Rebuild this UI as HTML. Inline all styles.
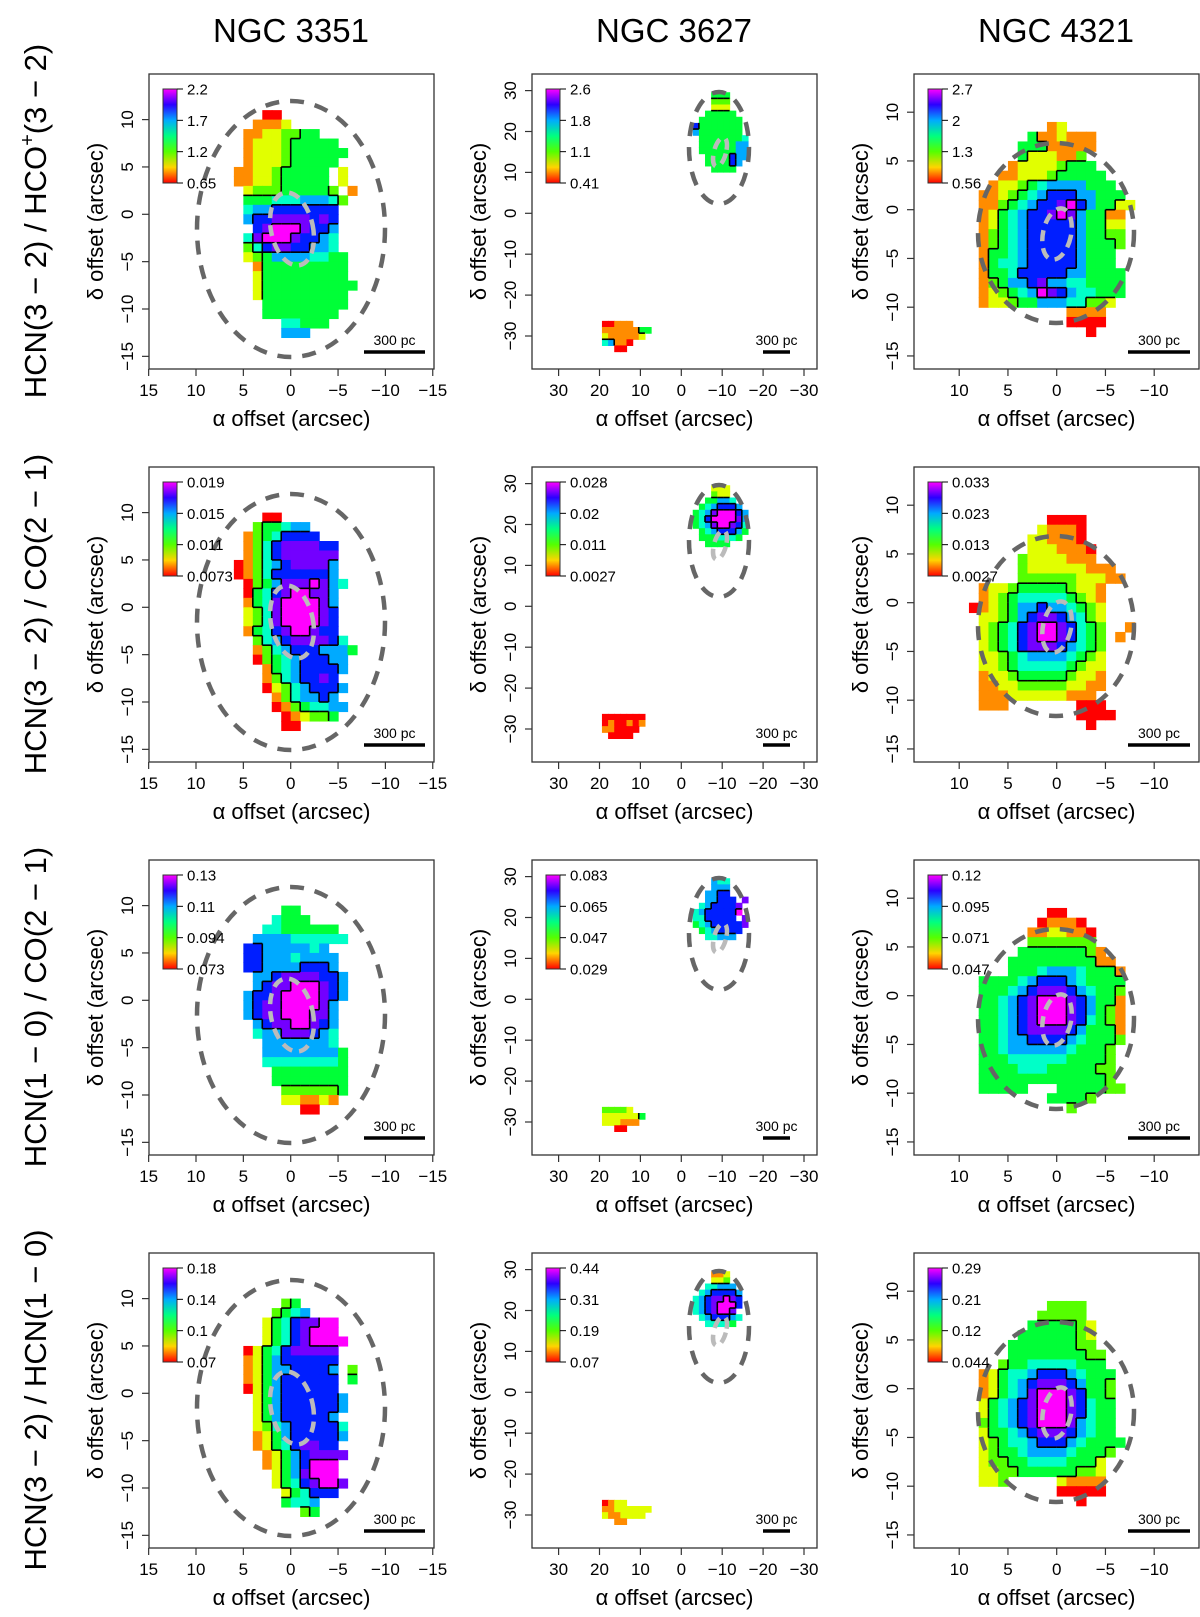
<!DOCTYPE html>
<html><head><meta charset="utf-8"><title>HCN ratio maps</title>
<style>
html,body{margin:0;padding:0;background:#fff;}
svg{display:block;font-family:"Liberation Sans",Arial,sans-serif;}
</style></head>
<body>
<svg id="fig" width="1200" height="1617" viewBox="0 0 1200 1617" xmlns="http://www.w3.org/2000/svg">
<defs>
<linearGradient id="cbgrad" x1="0" y1="1" x2="0" y2="0">
<stop offset="0" stop-color="hsl(0,100%,50%)"/><stop offset="0.167" stop-color="hsl(50,100%,50%)"/>
<stop offset="0.333" stop-color="hsl(100,100%,50%)"/><stop offset="0.5" stop-color="hsl(150,100%,50%)"/>
<stop offset="0.667" stop-color="hsl(200,100%,50%)"/><stop offset="0.833" stop-color="hsl(250,100%,50%)"/>
<stop offset="1" stop-color="hsl(300,100%,50%)"/>
</linearGradient>
</defs>
<text x="291" y="42" font-size="33" text-anchor="middle">NGC 3351</text>
<text x="674" y="42" font-size="33" text-anchor="middle">NGC 3627</text>
<text x="1056" y="42" font-size="33" text-anchor="middle">NGC 4321</text>
<text transform="translate(46,221) rotate(-90)" font-size="31" text-anchor="middle">HCN(3 − 2) / HCO<tspan font-size="20" dy="-12">+</tspan><tspan dy="12">(3 − 2)</tspan></text>
<text transform="translate(46,614) rotate(-90)" font-size="31" text-anchor="middle">HCN(3 − 2) / CO(2 − 1)</text>
<text transform="translate(46,1007) rotate(-90)" font-size="31" text-anchor="middle">HCN(1 − 0) / CO(2 − 1)</text>
<text transform="translate(46,1400) rotate(-90)" font-size="31" text-anchor="middle">HCN(3 − 2) / HCN(1 − 0)</text>
</svg>
<script>
// ---- data: level grids (0=red .. 9=magenta, '.'=no data) ----
const map_r1c1 = ["....00........","...1112.......","..11223344....","..1222344444..","..12223444444.","..1222344444..",".1122344444.2.",".1122344444.2.","..2333444443.1","..44455566653.","..5667777777..","..6778888787..","...789998776..","..5899987765..","..3578877665..","..23466665544.","...1444444444.","...2444444444.","...24444444444","...2444444444.","....444444444.","....44444444..","......55444...","......666....."];
const map_r2c1 = ["..............","....00........","...344566.....","..13457777....","..1357888877..","..1357888888..",".01356788886..",".01357777776..","..03468889865.","..0457899886..","..1458999986..","..2358999987..","..2358999987..","..1457899877..","...3567888875.","...13567776664","...0345677766.","....145677776.","....13567787..","....023567776.",".....1356676..",".....01345566.","......012334..","......00......"];
const map_r3c1 = ["..............","......44......",".....5444.....","....55444444..","...6666555555.","..776666656...","..7766656666..","..7766667776..","...6678888776.","...6788999876.","..67789999876.","..6788999986..","..6788999886..","...678899876..","...566888765..","....66666665..","....666666664.","....555555554.",".....44444444.",".....44444444.","......3333334.","......221121..","........00...."];
const map_r4c1 = ["..............","......34......",".....3456.....","....24578899..","....24578999..","....245789999.","..0245788888..","..1246777777..","..1246677776.3","..1246777777.4","..0246777777..","...2467777776.","...2467777776.","...246777776..","...2356777775.","...1246777776.","...124578877..","....124678888.","....12467999..",".....2468999..",".....24578998.","......245777..","......4556....","........34...."];
const map_r1c3 = ["..................","........12........","......4112111.....",".....44411111.....",".....4222113......","....122223444.....","...11222344444....","..1223456666444...",".112345677766444..",".1134567789764422.",".124567789864411..",".124567777764422..",".134567777764433..",".134567777764443..",".14456777776444...",".14556777776444...",".144577777664444..",".134667866554444..",".123456987655444..",".12234466655332...","..........1111....","..........0000....","............0....."];
const map_r2c3 = ["..................","........0000......",".......21110......","......221110......","......2221110.....",".....32222111.....",".....3222222111...",".....33333322211..",".1223444443221....",".1234555554321....","01234667665432....",".2234678876532....",".2345789987543..1.",".2345789987543.1..",".2345788876543....",".2234566665432....",".2234555554322....",".1223444443221....",".1122333332211....",".111222222111.....",".111.......000....","...........0000...","............0....."];
const map_r3c3 = ["..................","........00........",".......01110......","......1122110.....","......3333333.....",".....444444431....","....44444444411...","....444566654441..",".444456777654444..",".444567888765443..",".445678999876441..",".445678999876431..",".445678999875431..",".445678888764441..",".445667777654443..",".44566666654443...",".44455555544443...",".44445554444433...",".44444444444443...",".44444...4444433..","........44443.....","..........3.......","..................."];
const map_r4c3 = ["..................","........3333......",".......33333......","......4444432.....",".....44444432.....","....444444433.....","....4444444433....","...34455555444....",".12455677765444...",".12456788876443...",".12456899987443...",".24567899987544...",".24567899987544...",".34567899986544...",".24456788876544...",".234556777654444..",".23445666654443...",".2334455554442....",".2233444444332....",".223.....21111....",".........00000....","...........0......","..................."];
const up_r1c2 = ["...444...","...333...","...222...","..44444..",".4444444.","74444444.","64444444.",".44444445",".44444466",".44444466","..4444766","..444476.","...4444.."];
const lo_r1c2 = ["00111....","11111144.","2111112..","56110....","..00....."];
const up_r2c2 = ["...222...","...322...","..44665..",".4567776.","456899976","457999986","456899875",".45677764",".4445554.","..4444..."];
const lo_r2c2 = ["0000000..","0100101..","110000...",".0000...."];
const up_r3c2 = ["...655...","...666...","..6677...","..66777.8",".5677778.","56777779.","5577777.8","456777778",".4567777.","..55666.."];
const lo_r3c2 = ["33332....","2222224..","222111...","..00....."];
const up_r4c2 = ["...112...","...223...","..55666..",".5677776.","56788987.","56789997.","5678998..",".5677765.","..55554.."];
const lo_r4c2 = ["0122.....","11222222.","2112222..","..11....."];
// colour-bar tick labels (top to bottom)
const cb_r1 = ["2.2","1.7","1.2","0.65"], cb_r1c2 = ["2.6","1.8","1.1","0.41"], cb_r1c3 = ["2.7","2","1.3","0.56"];
const cb_r2 = ["0.019","0.015","0.011","0.0073"], cb_r2c2 = ["0.028","0.02","0.011","0.0027"], cb_r2c3 = ["0.033","0.023","0.013","0.0027"];
const cb_r3 = ["0.13","0.11","0.094","0.073"], cb_r3c2 = ["0.083","0.065","0.047","0.029"], cb_r3c3 = ["0.12","0.095","0.071","0.047"];
const cb_r4 = ["0.18","0.14","0.1","0.07"], cb_r4c2 = ["0.44","0.31","0.19","0.07"], cb_r4c3 = ["0.29","0.21","0.12","0.044"];
// contour thresholds (levels)
const contourLevels = [3.5, 6.5, 8.5];
// axis ticks
const ticksX_c1 = [15,10,5,0,-5,-10,-15], ticksY_c1 = [10,5,0,-5,-10,-15];
const ticksX_c2 = [30,20,10,0,-10,-20,-30], ticksY_c2 = [30,20,10,0,-10,-20,-30];
const ticksX_c3 = [10,5,0,-5,-10], ticksY_c3 = [10,5,0,-5,-10,-15];

const NS = "http://www.w3.org/2000/svg";
const svg = document.getElementById('fig');
const rowTop = [74, 467, 860, 1253];
const colLeft = [149, 532, 914];
const W = 285, H = 295;
const cols = [
 {s:9.47, X0:141.7, Y0:140.3, tx:ticksX_c1, ty:ticksY_c1, ell:[142,155,94,128], inn:[143,155,21,37,-12], bar:[215,276]},
 {s:4.09, X0:149.3, Y0:139.3, tx:ticksX_c2, ty:ticksY_c2, ell:[187,74,30,56], inn:[188,78,6,15,15], bar:[231,258]},
 {s:9.75, X0:142.7, Y0:135.7, tx:ticksX_c3, ty:ticksY_c3, ell:[142,159,78,90], inn:[143,160,14,26,12], bar:[214,276]}
];
const panels = [
 [[{g:map_r1c1,x0:7,y0:11,c:1}],[{g:up_r1c2,x0:-2.8,y0:29.6,c:1.5},{g:lo_r1c2,x0:19.4,y0:-26.3,c:1.5}],[{g:map_r1c3,x0:9,y0:10,c:1}]],
 [[{g:map_r2c1,x0:7,y0:11,c:1}],[{g:up_r2c2,x0:-2.8,y0:29.6,c:1.5},{g:lo_r2c2,x0:19.4,y0:-26.3,c:1.5}],[{g:map_r2c3,x0:9,y0:10,c:1}]],
 [[{g:map_r3c1,x0:7,y0:11,c:1}],[{g:up_r3c2,x0:-2.8,y0:29.6,c:1.5},{g:lo_r3c2,x0:19.4,y0:-26.3,c:1.5}],[{g:map_r3c3,x0:9,y0:10,c:1}]],
 [[{g:map_r4c1,x0:7,y0:11,c:1}],[{g:up_r4c2,x0:-2.8,y0:29.6,c:1.5},{g:lo_r4c2,x0:19.4,y0:-26.3,c:1.5}],[{g:map_r4c3,x0:9,y0:10,c:1}]]
];
const cbs = [[cb_r1,cb_r1c2,cb_r1c3],[cb_r2,cb_r2c2,cb_r2c3],[cb_r3,cb_r3c2,cb_r3c3],[cb_r4,cb_r4c2,cb_r4c3]];

function mk(tag, attrs, parent){
  const e = document.createElementNS(NS, tag);
  for (const k in attrs) e.setAttribute(k, attrs[k]);
  parent.appendChild(e); return e;
}
function colour(l){ return 'hsl(' + Math.round(l/9*300) + ',100%,50%)'; }
function fmt(v){ return (v<0?'−':'') + Math.abs(v); }

for (let r=0;r<4;r++){
 for (let c=0;c<3;c++){
  const cf = cols[c], L = colLeft[c], T = rowTop[r];
  const g = mk('g',{transform:'translate('+L+','+T+')'},svg);
  
  
  const px = x => cf.X0 - x*cf.s;
  const py = y => cf.Y0 - y*cf.s;
  const hm = mk('g',{},g);
  
  
  const cont = mk('g',{stroke:'#000','stroke-width':1.6,fill:'none'},g);
  
  
  for (const b of panels[r][c]){
    const rows = b.g;
    const lv = (i,j) => { if(i<0||i>=rows.length) return null; const ch = rows[i][j]; return (ch===undefined||ch==='.')?null:+ch; };
    for (let i=0;i<rows.length;i++){
      for (let j=0;j<rows[i].length;j++){
        const v = lv(i,j); if (v===null) continue;
        const x1 = px(b.x0 - j*b.c), x2 = px(b.x0-(j+1)*b.c);
        const y1 = py(b.y0 - i*b.c), y2 = py(b.y0-(i+1)*b.c);
        const rc = mk('rect',{x:x1.toFixed(2),y:y1.toFixed(2),width:(x2-x1+0.6).toFixed(2),height:(y2-y1+0.6).toFixed(2),fill:colour(v)},hm);
        
        
        const vr = lv(i,j+1), vb = lv(i+1,j);
        for (const t of contourLevels){
          if (vr!==null && ((v>=t)!==(vr>=t))) mk('line',{x1:x2,y1:y1,x2:x2,y2:y2},cont);
          if (vb!==null && ((v>=t)!==(vb>=t))) mk('line',{x1:x1,y1:y2,x2:x2,y2:y2},cont);
        }
      }
    }
  }
  // ellipses
  const e1 = mk('ellipse',{cx:cf.ell[0],cy:cf.ell[1],rx:cf.ell[2],ry:cf.ell[3],fill:'none',stroke:'#666','stroke-width':4.5,'stroke-dasharray':'14 11'},g);
  
  
  const e2 = mk('ellipse',{cx:cf.inn[0],cy:cf.inn[1],rx:cf.inn[2],ry:cf.inn[3],fill:'none',stroke:'#bbb','stroke-width':4.5,'stroke-dasharray':'11 7',transform:'rotate('+cf.inn[4]+' '+cf.inn[0]+' '+cf.inn[1]+')'},g);
  
  
  // colour bar
  const cb = mk('rect',{x:14,y:15,width:14,height:94,fill:'url(#cbgrad)',stroke:'#333','stroke-width':1},g);
  
  
  cbs[r][c].forEach((lab,k)=>{
    const yy = 15 + k*94/3;
    mk('line',{x1:28,y1:yy,x2:34,y2:yy,stroke:'#000','stroke-width':1},g);
    const t = mk('text',{x:38,y:yy+5.5,'font-size':15},g);
    
    
    t.textContent = lab;
  });
  // scale bar
  const sb = mk('line',{x1:cf.bar[0],y1:278,x2:cf.bar[1],y2:278,stroke:'#000','stroke-width':3.5},g);
  
  
  const sbt = mk('text',{x:(cf.bar[0]+cf.bar[1])/2,y:271,'font-size':14,'text-anchor':'middle'},g);
  
  
  sbt.textContent = '300 pc';
  // frame
  const fr = mk('rect',{x:0,y:0,width:W,height:H,fill:'none',stroke:'#333','stroke-width':1.3},g);
  
  
  // x ticks
  cf.tx.forEach(v=>{
    const x = px(v);
    mk('line',{x1:x,y1:H,x2:x,y2:H+7,stroke:'#333','stroke-width':1.2},g);
    const t = mk('text',{x:x,y:H+27,'font-size':17,'text-anchor':'middle'},g);
    
    
    t.textContent = fmt(v);
  });
  cf.ty.forEach(v=>{
    const y = py(v);
    mk('line',{x1:0,y1:y,x2:-7,y2:y,stroke:'#333','stroke-width':1.2},g);
    const t = mk('text',{transform:'translate(-16,'+y+') rotate(-90)','font-size':17,'text-anchor':'middle'},g);
    
    
    t.textContent = fmt(v);
  });
  const xt = mk('text',{x:W/2,y:H+57,'font-size':22,'text-anchor':'middle'},g);
  
  
  xt.textContent = 'α offset (arcsec)';
  const yt = mk('text',{transform:'translate(-46,'+(H/2)+') rotate(-90)','font-size':22,'text-anchor':'middle'},g);
  
  
  yt.textContent = 'δ offset (arcsec)';
 }
}
</script>
</body></html>
